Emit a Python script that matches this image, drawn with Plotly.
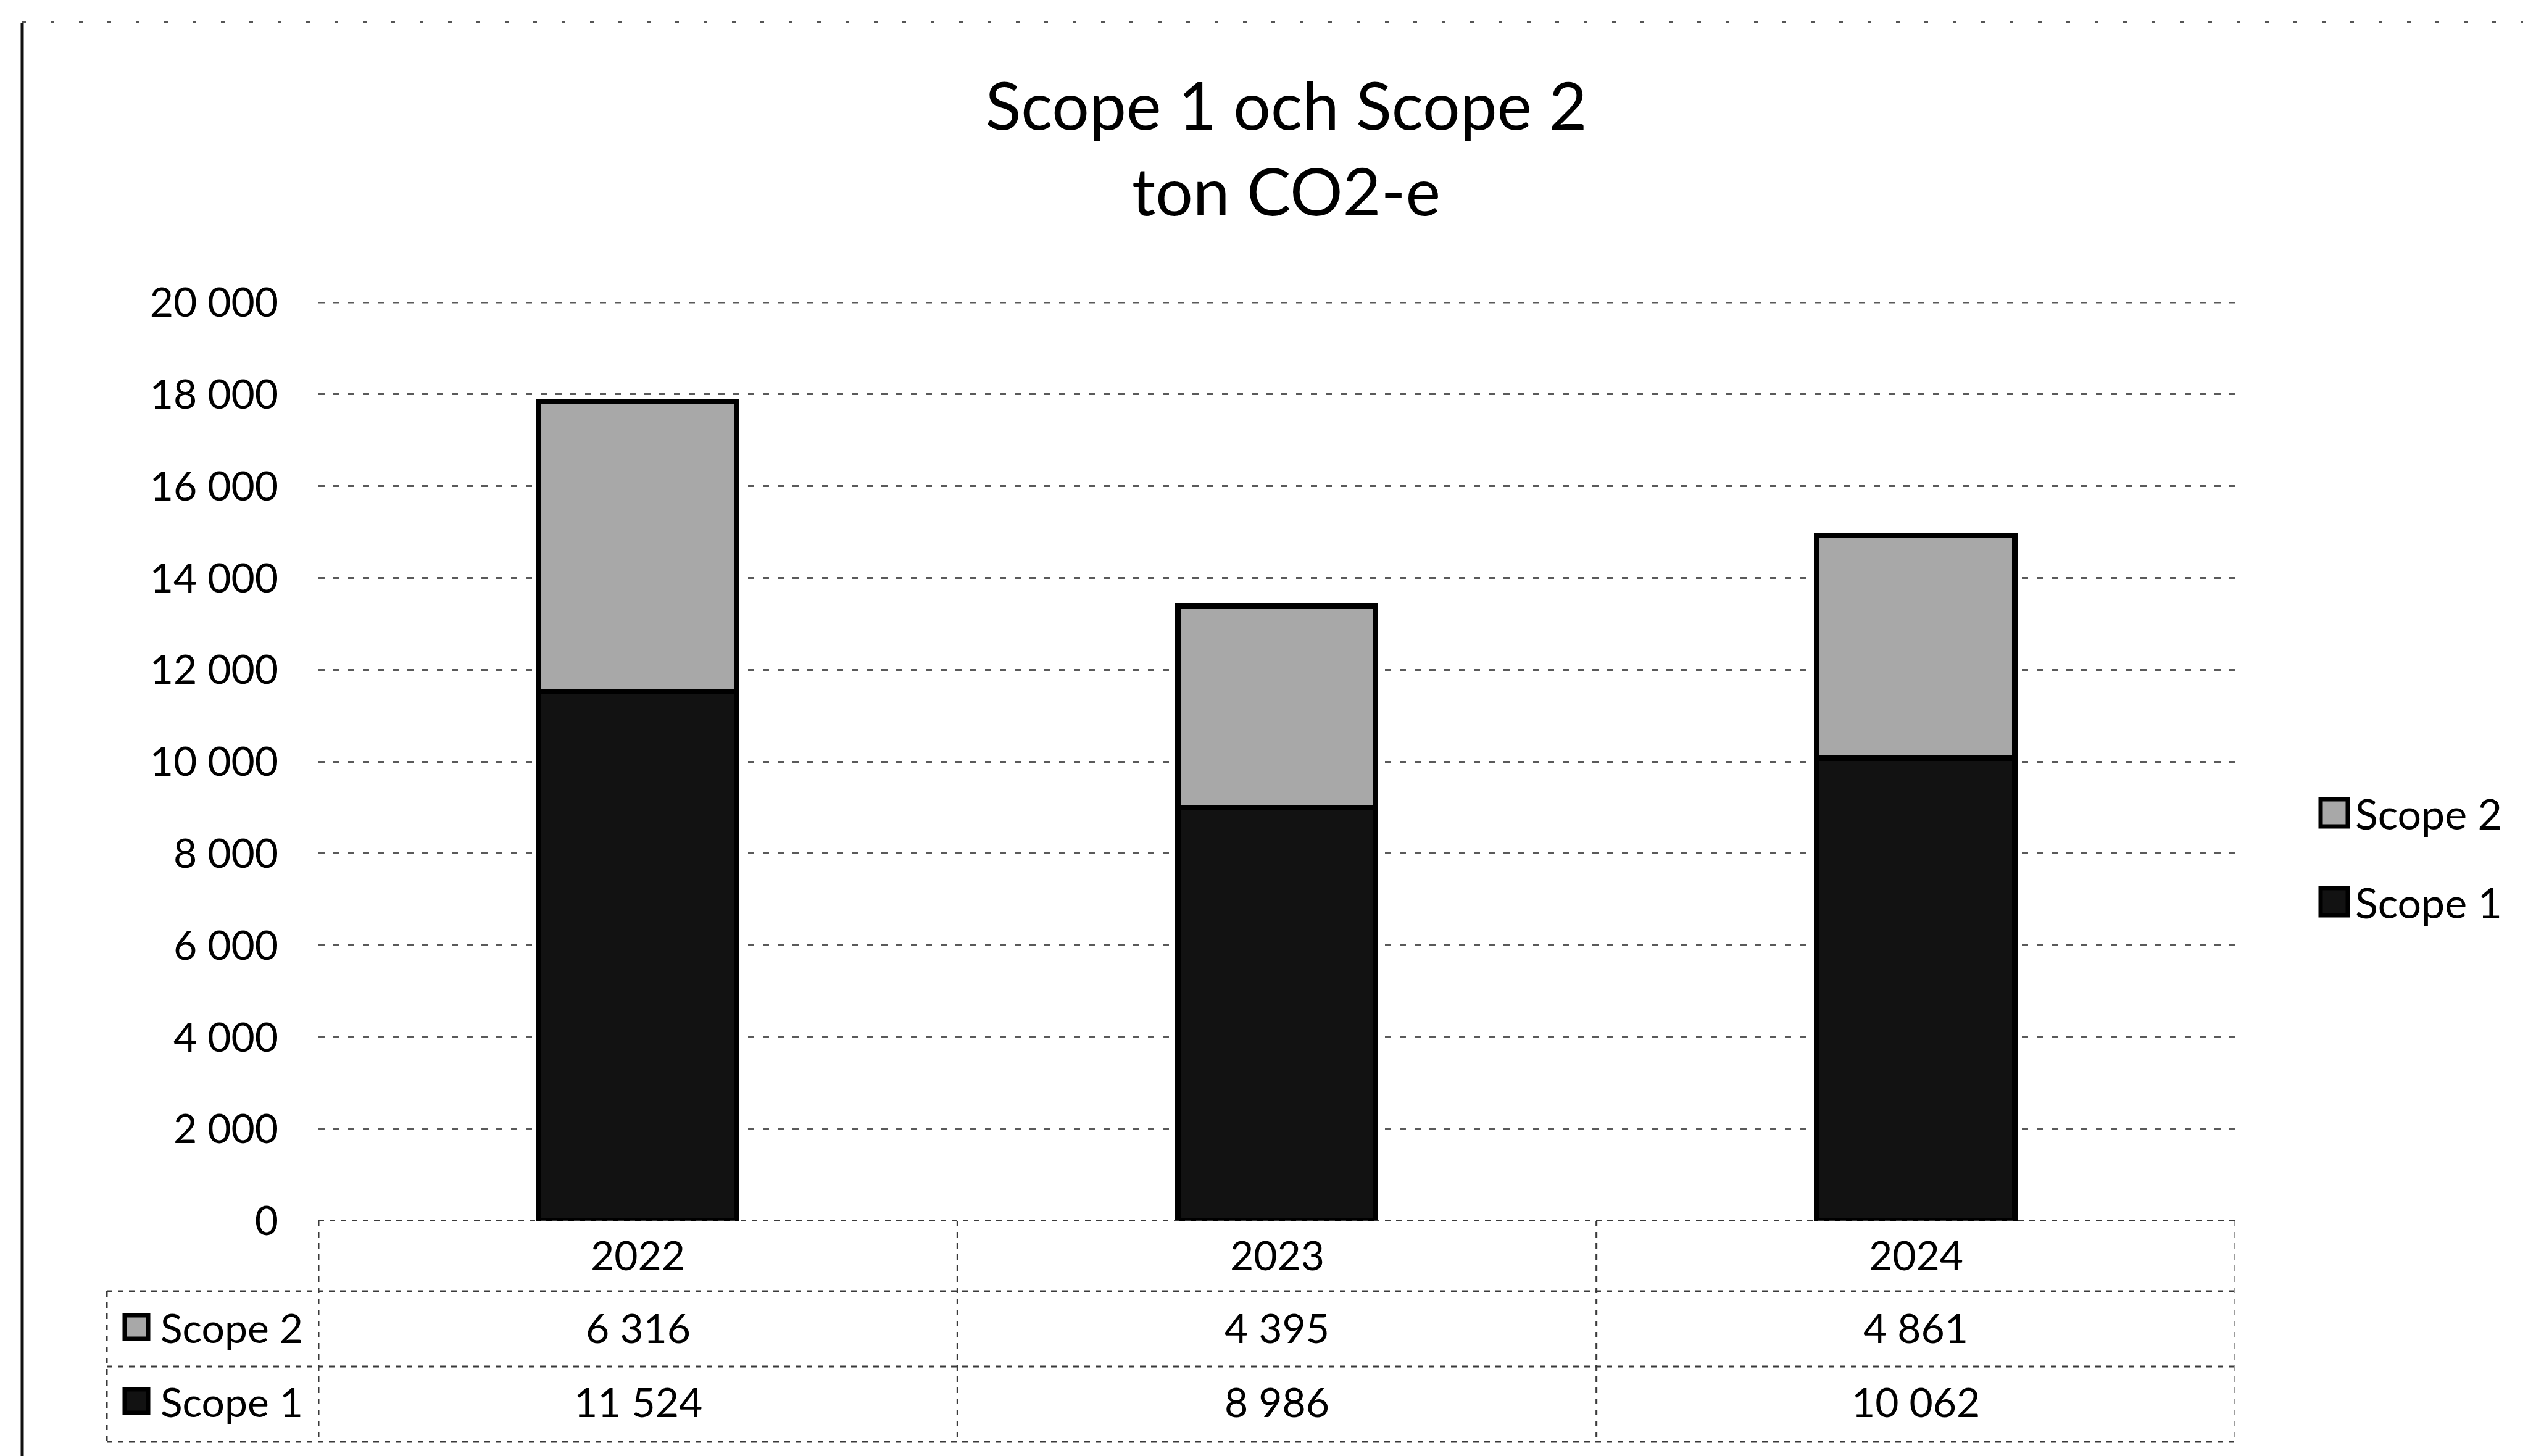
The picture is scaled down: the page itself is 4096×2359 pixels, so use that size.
import plotly.graph_objects as go

# ---------------- data ----------------
years = ["2022", "2023", "2024"]
scope1 = [11524, 8986, 10062]
scope2 = [6316, 4395, 4861]
series_names = ["Scope 1", "Scope 2"]
title_lines = ["Scope 1 och Scope 2", "ton CO2-e"]
y_ticks = list(range(0, 20001, 2000))

# ---------------- layout geometry (output px) ----------------
W, H = 4096, 2359
L, R, T, B = 508, 482, 482, 389
PW, PH = W - L - R, H - T - B
FONT = "Lato"
C1 = "#121212"
C2 = "#a8a8a8"
BODY = 66


def px_x(px):
    return (px - L) / PW


def px_y(py):
    return (H - B - py) / PH


def fmt(v):
    return f"{v:,}".replace(",", " ")


fig = go.Figure()
fig.add_trace(go.Bar(x=years, y=scope1, name=series_names[0], width=0.31,
                     marker=dict(color=C1, line=dict(color="black", width=9)),
                     showlegend=False))
fig.add_trace(go.Bar(x=years, y=scope2, name=series_names[1], width=0.31,
                     marker=dict(color=C2, line=dict(color="black", width=9)),
                     showlegend=False))

shapes = []
annotations = []

row_lines_px = [2084, 2206, 2328]
row_center_px = {"year": 2024, series_names[1]: 2142, series_names[0]: 2262}
left_col_px = 165
TL = dict(color="#3a3a3a", width=3, dash="dash")

# top gridline at max tick (range edge)
shapes.append(dict(type="line", xref="paper", yref="y", x0=0, x1=1,
                   y0=y_ticks[-1], y1=y_ticks[-1], layer="below",
                   line=dict(color="#5a5a5a", width=3, dash="10px,14px")))
# table top (axis line at 0)
shapes.append(dict(type="line", xref="paper", yref="y", x0=0, x1=1,
                   y0=0, y1=0, line=TL))
for ry in row_lines_px:
    shapes.append(dict(type="line", xref="paper", yref="paper",
                       x0=px_x(left_col_px), x1=1, y0=px_y(ry), y1=px_y(ry), line=TL))
for xv in [-0.5, 0.5, 1.5, 2.5]:
    shapes.append(dict(type="line", xref="x", yref="paper", x0=xv, x1=xv,
                       y0=0, y1=px_y(row_lines_px[-1]), line=TL))
shapes.append(dict(type="line", xref="paper", yref="paper",
                   x0=px_x(left_col_px), x1=px_x(left_col_px),
                   y0=px_y(row_lines_px[0]), y1=px_y(row_lines_px[-1]), line=TL))

# year header and values (category index positions on the x axis)
for i, yr in enumerate(years):
    annotations.append(dict(x=i, y=px_y(row_center_px["year"]), xref="x", yref="paper",
                            text=yr, showarrow=False, xanchor="center", yanchor="middle",
                            font=dict(family=FONT, size=BODY, color="black")))
for name, vals in [(series_names[1], scope2), (series_names[0], scope1)]:
    for i, v in enumerate(vals):
        annotations.append(dict(x=i, y=px_y(row_center_px[name]), xref="x", yref="paper",
                                text=fmt(v), showarrow=False, xanchor="center", yanchor="middle",
                                font=dict(family=FONT, size=BODY, color="black")))


def key(xc_px, yc_px, color, size=40):
    shapes.append(dict(type="rect", xref="paper", yref="paper",
                       x0=px_x(xc_px - size / 2), x1=px_x(xc_px + size / 2),
                       y0=px_y(yc_px + size / 2), y1=px_y(yc_px - size / 2),
                       fillcolor=color, line=dict(color="black", width=7)))


for name, color in [(series_names[1], C2), (series_names[0], C1)]:
    yc = row_center_px[name]
    key(213, yc, color, 38)
    annotations.append(dict(x=px_x(250), y=px_y(yc), xref="paper", yref="paper",
                            text=name, showarrow=False, xanchor="left", yanchor="middle",
                            font=dict(family=FONT, size=BODY, color="black")))

for name, color, yc in [(series_names[1], C2, 1309), (series_names[0], C1, 1453)]:
    key(3774, yc, color, 44)
    annotations.append(dict(x=px_x(3806), y=px_y(yc), xref="paper", yref="paper",
                            text=name, showarrow=False, xanchor="left", yanchor="middle",
                            font=dict(family=FONT, size=68, color="black")))

shapes.append(dict(type="line", xref="paper", yref="paper",
                   x0=px_x(28), x1=px_x(28), y0=px_y(30), y1=px_y(H + 10),
                   line=dict(color="#111", width=5)))
shapes.append(dict(type="line", xref="paper", yref="paper",
                   x0=px_x(28), x1=px_x(W), y0=px_y(28), y1=px_y(28),
                   line=dict(color="#555", width=4, dash="6px,40px")))

fig.update_layout(
    width=W, height=H, autosize=False,
    margin=dict(l=L, r=R, t=T, b=B, pad=0),
    paper_bgcolor="white", plot_bgcolor="white",
    barmode="stack", bargap=0.0,
    separators=", ",
    showlegend=False,
    font=dict(family=FONT, size=BODY, color="black"),
    title=dict(text="<br>".join(title_lines), x=2076 / W, xref="container", xanchor="center",
               y=1 - 202 / H, yref="container", yanchor="middle",
               font=dict(family=FONT, size=107, color="black")),
    shapes=shapes,
    annotations=annotations,
)
fig.update_xaxes(type="category", range=[-0.5, 2.5], showticklabels=False, showgrid=False,
                 zeroline=False, showline=False, ticks="")
fig.update_yaxes(range=[0, 20000], tickvals=y_ticks, tickformat=",d",
                 showgrid=True, gridcolor="#5a5a5a", gridwidth=3, griddash="10px,14px",
                 zeroline=False, showline=False, ticks="", ticklabelstandoff=64,
                 tickfont=dict(family=FONT, size=BODY, color="black"))

fig.write_html("out.html")
